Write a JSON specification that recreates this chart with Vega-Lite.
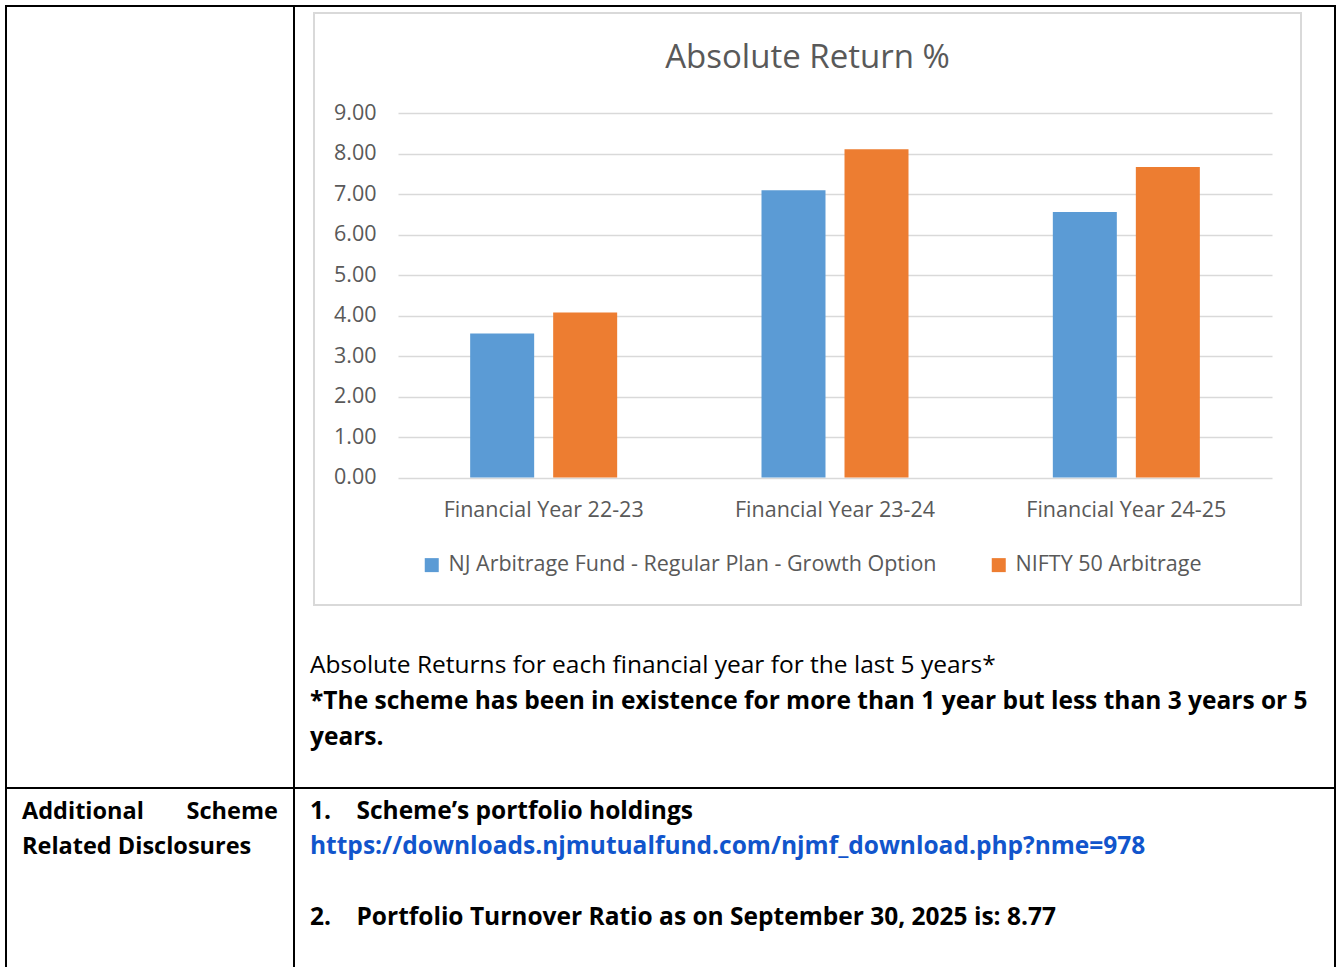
{
  "$schema": "https://vega.github.io/schema/vega-lite/v6.json",
  "padding": {"left": 5, "top": 5, "right": 0, "bottom": 0},
  "background": "white",
  "bounds": "flush",
  "spacing": 0,
  "columns": 2,
  "config": {
    "view": {"stroke": "black", "strokeWidth": 2, "fill": "white"},
    "font": "Open Sans"
  },
  "resolve": {
    "scale": {"color": "independent", "x": "independent", "y": "independent"},
    "legend": {"color": "independent"}
  },
  "concat": [
    {
      "width": 288,
      "height": 782,
      "data": {"values": [{"t": ""}]},
      "mark": {"type": "text"},
      "encoding": {
        "x": {"datum": 0, "type": "quantitative", "scale": {"domain": [0, 1]}, "axis": null},
        "y": {"datum": 0, "type": "quantitative", "scale": {"domain": [0, 1]}, "axis": null},
        "text": {"field": "t"}
      }
    },
    {
      "width": 1041,
      "height": 782,
      "title": {
        "text": "Absolute Returns for each financial year for the last 5 years*",
        "subtitle": ["*The scheme has been in existence for more than 1 year but less than 3 years or 5", "years."],
        "orient": "bottom",
        "anchor": "start",
        "frame": "group",
        "offset": -134,
        "dx": 16,
        "font": "Open Sans",
        "fontSize": 24.5,
        "fontWeight": "normal",
        "color": "black",
        "subtitleFont": "Open Sans",
        "subtitleFontSize": 24.5,
        "subtitleFontWeight": "bold",
        "subtitleColor": "black",
        "subtitleLineHeight": 36,
        "subtitlePadding": 11
      },
      "resolve": {"scale": {"x": "independent", "y": "independent"}},
      "layer": [
        {
          "data": {"values": [{"frame": "chart area"}]},
          "mark": {"type": "rect", "fill": "transparent", "stroke": "#d9d9d9", "strokeWidth": 2},
          "encoding": {
            "x": {"datum": 0, "type": "quantitative", "scale": {"domain": [0, 1], "range": [20, 1007]}, "axis": null},
            "x2": {"datum": 1},
            "y": {"datum": 0, "type": "quantitative", "scale": {"domain": [0, 1], "range": [7, 599]}, "axis": null},
            "y2": {"datum": 1}
          }
        },
        {
          "data": {
            "values": [
              {"year": "Financial Year 22-23", "series": "NJ Arbitrage Fund - Regular Plan - Growth Option", "value": 3.56},
              {"year": "Financial Year 22-23", "series": "NIFTY 50 Arbitrage", "value": 4.08},
              {"year": "Financial Year 23-24", "series": "NJ Arbitrage Fund - Regular Plan - Growth Option", "value": 7.10},
              {"year": "Financial Year 23-24", "series": "NIFTY 50 Arbitrage", "value": 8.11},
              {"year": "Financial Year 24-25", "series": "NJ Arbitrage Fund - Regular Plan - Growth Option", "value": 6.56},
              {"year": "Financial Year 24-25", "series": "NIFTY 50 Arbitrage", "value": 7.67}
            ]
          },
          "mark": {"type": "bar"},
          "encoding": {
            "x": {
              "field": "year",
              "type": "nominal",
              "sort": null,
              "scale": {"range": [104, 978], "paddingInner": 0.4954, "paddingOuter": 0.2477},
              "axis": {
                "orient": "bottom",
                "offset": -310.5,
                "domain": false,
                "ticks": false,
                "tickSize": 0,
                "labelAngle": 0,
                "labelPadding": 22,
                "labelLimit": 400,
                "labelOverlap": false,
                "labelFont": "Open Sans",
                "labelFontSize": 21.5,
                "labelColor": "#595959",
                "title": null
              }
            },
            "xOffset": {
              "field": "series",
              "type": "nominal",
              "sort": ["NJ Arbitrage Fund - Regular Plan - Growth Option", "NIFTY 50 Arbitrage"],
              "scale": {"paddingInner": 0.229, "paddingOuter": 0}
            },
            "y": {
              "field": "value",
              "type": "quantitative",
              "scale": {"domain": [0, 9], "range": [471.5, 107.3], "nice": false},
              "axis": {
                "orient": "left",
                "offset": -104,
                "values": [0, 1, 2, 3, 4, 5, 6, 7, 8, 9],
                "format": ".2f",
                "domain": false,
                "ticks": false,
                "tickSize": 0,
                "grid": true,
                "gridColor": "#d9d9d9",
                "gridWidth": 1.5,
                "labelPadding": 22,
                "labelFont": "Open Sans",
                "labelFontSize": 21.5,
                "labelColor": "#595959",
                "title": "Absolute Return %",
                "titleAngle": 0,
                "titleX": 409,
                "titleY": 51,
                "titleAlign": "center",
                "titleBaseline": "middle",
                "titleFont": "Open Sans",
                "titleFontSize": 33,
                "titleFontWeight": "normal",
                "titleColor": "#595959"
              }
            },
            "color": {
              "field": "series",
              "type": "nominal",
              "sort": ["NJ Arbitrage Fund - Regular Plan - Growth Option", "NIFTY 50 Arbitrage"],
              "scale": {"domain": ["NJ Arbitrage Fund - Regular Plan - Growth Option", "NIFTY 50 Arbitrage"], "range": ["#5b9bd5", "#ed7d31"]},
              "legend": {
                "orient": "none",
                "legendX": 127,
                "legendY": 548,
                "direction": "horizontal",
                "title": null,
                "padding": 0,
                "symbolType": "square",
                "symbolSize": 196,
                "symbolStrokeWidth": 0,
                "labelFont": "Open Sans",
                "labelFontSize": 21.5,
                "labelColor": "#595959",
                "labelOffset": 6,
                "labelLimit": 0,
                "columnPadding": 51
              }
            }
          }
        }
      ]
    },
    {
      "width": 288,
      "height": 200,
      "data": {
        "values": [
          {"line": 1, "text": "Additional\u00a0\u00a0\u00a0\u00a0\u00a0\u00a0\u00a0Scheme"},
          {"line": 2, "text": "Related Disclosures"}
        ]
      },
      "mark": {"type": "text", "align": "left", "baseline": "middle", "font": "Open Sans", "fontSize": 23.5, "fontWeight": "bold", "color": "black"},
      "encoding": {
        "x": {"datum": 0, "type": "quantitative", "scale": {"domain": [0, 1], "range": [16, 288]}, "axis": null},
        "y": {"field": "line", "type": "ordinal", "scale": {"type": "point", "domain": [1, 2], "range": [23.5, 59], "padding": 0}, "axis": null},
        "text": {"field": "text"}
      }
    },
    {
      "width": 1041,
      "height": 200,
      "data": {
        "values": [
          {"line": 1, "kind": "item", "text": "1.\u00a0\u00a0\u00a0\u00a0Scheme’s portfolio holdings"},
          {"line": 2, "kind": "link", "text": "https://downloads.njmutualfund.com/njmf_download.php?nme=978"},
          {"line": 4, "kind": "item", "text": "2.\u00a0\u00a0\u00a0\u00a0Portfolio Turnover Ratio as on September 30, 2025 is: 8.77"}
        ]
      },
      "mark": {"type": "text", "align": "left", "baseline": "middle", "font": "Open Sans", "fontSize": 24.5, "fontWeight": "bold"},
      "encoding": {
        "x": {"datum": 0, "type": "quantitative", "scale": {"domain": [0, 1], "range": [16, 1041]}, "axis": null},
        "y": {"field": "line", "type": "ordinal", "scale": {"type": "point", "domain": [1, 2, 3, 4], "range": [23.5, 130], "padding": 0}, "axis": null},
        "color": {"field": "kind", "type": "nominal", "scale": {"domain": ["item", "link"], "range": ["#000000", "#1155cc"]}, "legend": null},
        "text": {"field": "text"}
      }
    }
  ]
}
